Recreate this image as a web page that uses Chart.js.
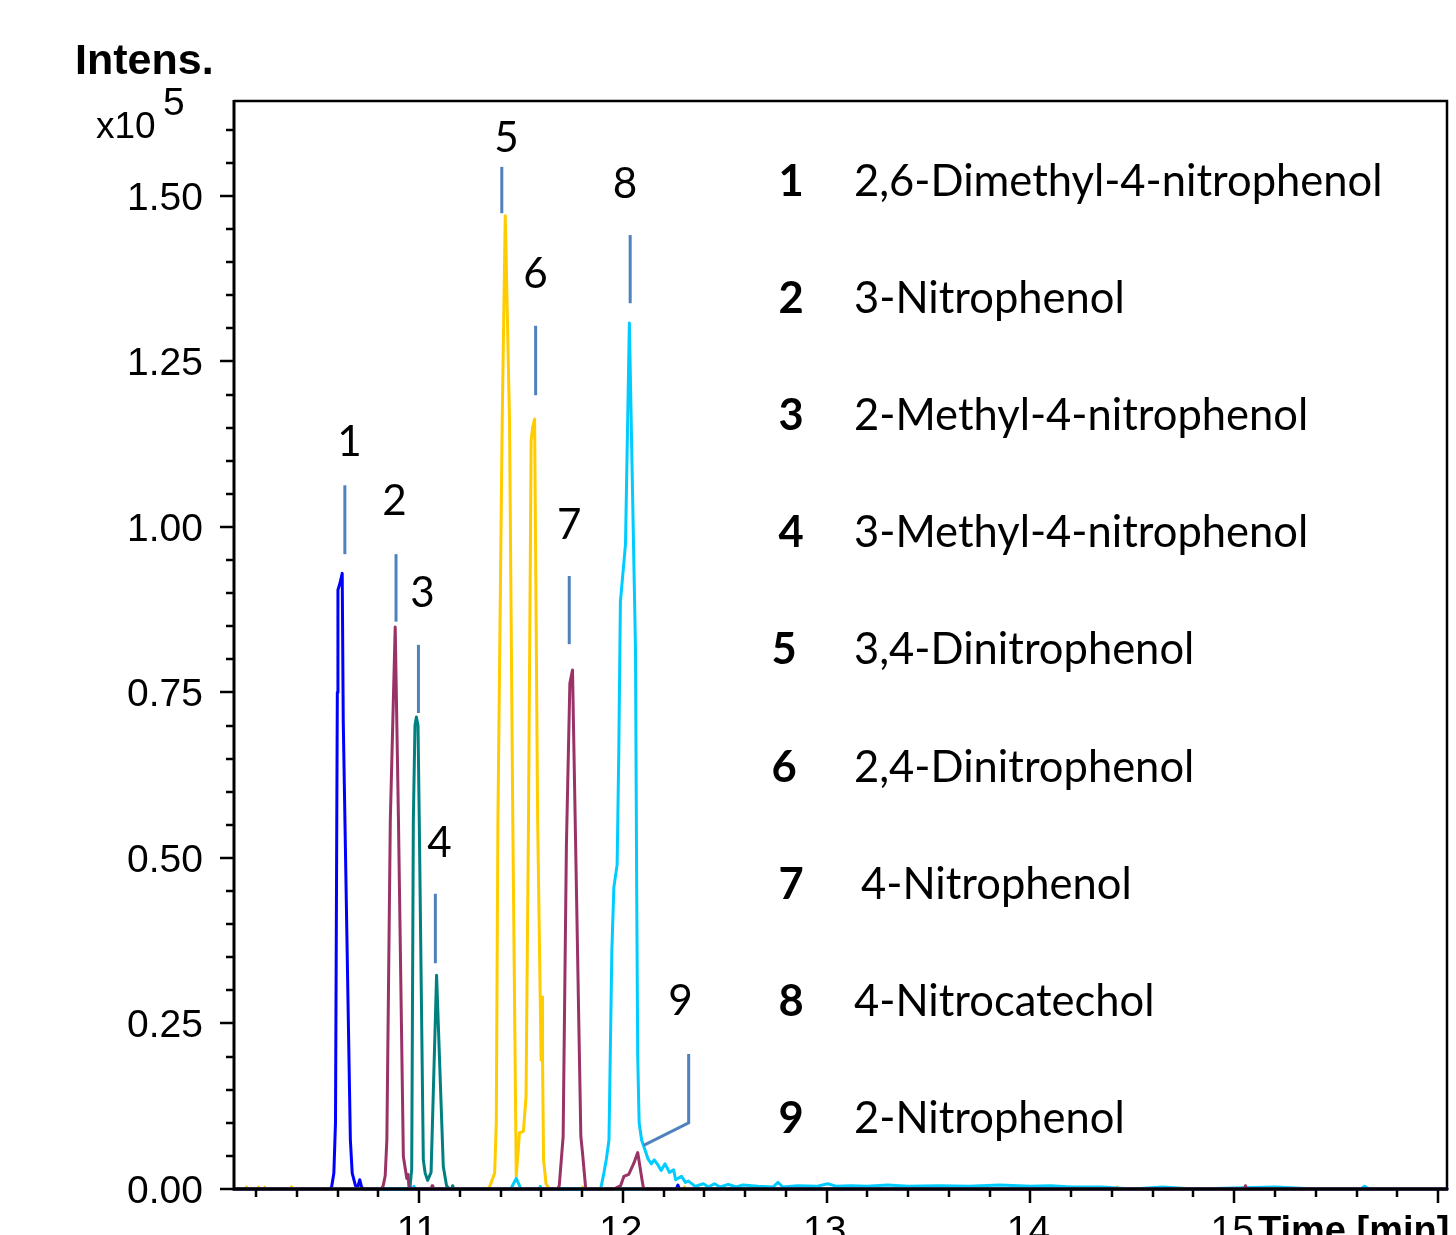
<!DOCTYPE html>
<html>
<head>
<meta charset="utf-8">
<script src="https://cdn.jsdelivr.net/npm/chart.js@4.4.1/dist/chart.umd.min.js"></script>
<style>
html, body { margin: 0; padding: 0; background: #fff; overflow: hidden; }
canvas { display: block; }
</style>
</head>
<body>
<canvas id="chart" width="1456" height="1235"></canvas>
<script>
// Extracted ion chromatograms, [time (min), intensity (x10^5)]
const eicBlue = [
  [10.092, 0], [10.560, 0], [10.571, 0.003], [10.582, 0.024], [10.590, 0.10], [10.599, 0.75],
  [10.602, 0.905], [10.612, 0.915], [10.623, 0.930], [10.628, 0.708], [10.663, 0.074],
  [10.672, 0.024], [10.688, 0.005], [10.700, 0.004], [10.709, 0.014], [10.718, 0.003],
  [10.728, 0], [12.262, 0], [12.270, 0.006], [12.278, 0], [16.044, 0]
];
const eicMaroon = [
  [10.092, 0], [10.815, 0], [10.824, 0.005], [10.834, 0.02], [10.842, 0.074], [10.859, 0.557],
  [10.883, 0.849], [10.899, 0.557], [10.923, 0.049], [10.940, 0.016], [10.946, 0.022], [10.951, 0],
  [11.060, 0], [11.064, 0.005], [11.068, 0],
  [11.680, 0], [11.688, 0.005], [11.707, 0.079], [11.723, 0.518], [11.740, 0.764], [11.753, 0.784],
  [11.794, 0.079], [11.802, 0.055], [11.818, 0],
  [11.956, 0], [11.989, 0.005], [12.005, 0.019], [12.029, 0.022], [12.054, 0.039], [12.073, 0.055],
  [12.094, 0.014], [12.102, 0],
  [15.050, 0], [15.055, 0.005], [15.060, 0], [16.044, 0]
];
const eicTeal = [
  [10.092, 0], [10.950, 0], [10.956, 0.004], [10.964, 0.03], [10.972, 0.557], [10.980, 0.70],
  [10.987, 0.713], [10.995, 0.70], [11.001, 0.557], [11.021, 0.044], [11.030, 0.024], [11.042, 0.013],
  [11.059, 0.025], [11.086, 0.323], [11.119, 0.034], [11.135, 0.005], [11.150, 0],
  [11.160, 0], [11.165, 0.005], [11.170, 0], [16.044, 0]
];
const eicGold = [
  [10.092, 0], [10.150, 0], [10.153, 0.003], [10.156, 0], [10.210, 0], [10.213, 0.003], [10.216, 0],
  [10.240, 0], [10.243, 0.003], [10.246, 0], [10.370, 0], [10.373, 0.003], [10.376, 0],
  [11.340, 0], [11.346, 0.003], [11.371, 0.024], [11.379, 0.10], [11.387, 0.557], [11.408, 1.16],
  [11.423, 1.470], [11.444, 1.16], [11.460, 0.557], [11.477, 0.019], [11.493, 0.085], [11.512, 0.087],
  [11.525, 0.14], [11.537, 0.557], [11.550, 1.13], [11.557, 1.15], [11.567, 1.163], [11.582, 0.557],
  [11.599, 0.195], [11.604, 0.29], [11.606, 0.195], [11.611, 0.044], [11.623, 0.008], [11.640, 0],
  [11.800, 0], [11.803, 0.003], [11.806, 0], [12.300, 0], [12.303, 0.003], [12.306, 0],
  [14.420, 0], [14.425, 0.003], [14.430, 0], [15.220, 0], [15.225, 0.003], [15.230, 0], [16.044, 0]
];
const eicCyan = [
  [10.092, 0], [10.950, 0], [10.955, 0.005], [10.960, 0], [10.970, 0], [10.975, 0.004], [10.980, 0],
  [11.450, 0], [11.477, 0.016], [11.500, 0], [11.590, 0], [11.595, 0.004], [11.600, 0],
  [11.891, 0], [11.907, 0.024], [11.919, 0.045], [11.932, 0.074], [11.946, 0.36], [11.956, 0.456],
  [11.972, 0.49], [11.980, 0.658], [11.988, 0.887], [12.013, 0.974], [12.032, 1.308], [12.062, 0.816],
  [12.068, 0.45], [12.073, 0.2], [12.080, 0.10], [12.092, 0.074], [12.109, 0.059], [12.124, 0.045],
  [12.140, 0.038], [12.154, 0.044], [12.173, 0.036], [12.188, 0.028], [12.207, 0.038], [12.229, 0.025],
  [12.249, 0.029], [12.259, 0.014], [12.288, 0.019], [12.307, 0.010], [12.322, 0.012], [12.355, 0.004],
  [12.395, 0.008], [12.420, 0.003], [12.449, 0.008], [12.478, 0.003], [12.517, 0.007], [12.556, 0.003],
  [12.590, 0.006], [12.663, 0.004], [12.737, 0.003], [12.761, 0.010], [12.785, 0.003], [12.859, 0.005],
  [12.950, 0.004], [13.005, 0.008], [13.050, 0.004], [13.120, 0.005], [13.200, 0.004], [13.300, 0.006],
  [13.400, 0.004], [13.550, 0.005], [13.700, 0.004], [13.850, 0.006], [14.000, 0.004], [14.100, 0.005],
  [14.200, 0.003], [14.350, 0.003], [14.500, 0], [14.650, 0.003], [14.800, 0], [15.200, 0.003],
  [15.400, 0], [15.620, 0], [15.640, 0.004], [15.660, 0], [16.044, 0]
];

// axis ticks
const yTickValues = [0, 0.25, 0.5, 0.75, 1.0, 1.25, 1.5];
const yTickLabels = ['0.00', '0.25', '0.50', '0.75', '1.00', '1.25', '1.50'];
const xTickValues = [11, 12, 13, 14, 15];
const xTickLabels = ['11', '12', '13', '14', '15'];

// peak list
const peakIds = ['1', '2', '3', '4', '5', '6', '7', '8', '9'];
const compounds = [
  '2,6-Dimethyl-4-nitrophenol', '3-Nitrophenol', '2-Methyl-4-nitrophenol', '3-Methyl-4-nitrophenol',
  '3,4-Dinitrophenol', '2,4-Dinitrophenol', '4-Nitrophenol', '4-Nitrocatechol', '2-Nitrophenol'
];

// peak markers in data units (marker time, marker span, label position)
const peakMarks = [
  { t: 10.636, lo: 0.959, hi: 1.063, lt: 10.659, ly: 1.107 },
  { t: 10.887, lo: 0.857, hi: 0.959, lt: 10.880, ly: 1.018 },
  { t: 10.997, lo: 0.719, hi: 0.822, lt: 11.017, ly: 0.879 },
  { t: 11.080, lo: 0.341, hi: 0.446, lt: 11.100, ly: 0.502 },
  { t: 11.406, lo: 1.474, hi: 1.544, lt: 11.429, ly: 1.566 },
  { t: 11.572, lo: 1.199, hi: 1.304, lt: 11.571, ly: 1.361 },
  { t: 11.737, lo: 0.823, hi: 0.926, lt: 11.737, ly: 0.982 },
  { t: 12.036, lo: 1.338, hi: 1.441, lt: 12.010, ly: 1.497 },
  { t: 12.323, lo: 0.100, hi: 0.204, lt: 12.283, ly: 0.263, tailT: 12.102, tailY: 0.066 }
];

const toPoints = arr => arr.map(p => ({ x: p[0], y: p[1] }));

const AXIS_FONT = '"Liberation Sans", Arial, sans-serif';
const TEXT_FONT = 'Lato, "Open Sans", sans-serif';

const decor = {
  id: 'decor',
  afterDatasetsDraw(chart) {
    const { ctx, chartArea: a, scales: { x, y } } = chart;
    ctx.save();
    ctx.strokeStyle = '#000';
    ctx.fillStyle = '#000';

    // frame
    ctx.lineWidth = 2.5;
    ctx.beginPath();
    ctx.moveTo(a.left, a.top);
    ctx.lineTo(a.right, a.top);
    ctx.lineTo(a.right, a.bottom);
    ctx.stroke();
    ctx.lineWidth = 3;
    ctx.beginPath();
    ctx.moveTo(a.left, a.top - 1);
    ctx.lineTo(a.left, a.bottom);
    ctx.lineTo(a.right + 1, a.bottom);
    ctx.stroke();

    // y ticks every 0.05, major every 0.25
    ctx.lineWidth = 2.5;
    for (let k = 0; k <= 32; k++) {
      const py = Math.round(y.getPixelForValue(k * 0.05));
      const len = k % 5 === 0 ? 14 : 8;
      ctx.beginPath();
      ctx.moveTo(a.left - len, py);
      ctx.lineTo(a.left, py);
      ctx.stroke();
    }
    // x ticks every 0.2, major every 1
    for (let k = 51; k <= 80; k++) {
      const px = Math.round(x.getPixelForValue(k / 5));
      const len = k % 5 === 0 ? 14 : 8;
      ctx.beginPath();
      ctx.moveTo(px, a.bottom);
      ctx.lineTo(px, a.bottom + len);
      ctx.stroke();
    }

    // tick labels
    ctx.font = '39px ' + AXIS_FONT;
    ctx.textAlign = 'right';
    ctx.textBaseline = 'alphabetic';
    yTickValues.forEach((v, i) => {
      ctx.fillText(yTickLabels[i], a.left - 31, y.getPixelForValue(v) + 14);
    });
    ctx.textAlign = 'center';
    xTickValues.forEach((v, i) => {
      ctx.fillText(xTickLabels[i], x.getPixelForValue(v) - 2, a.bottom + 54);
    });

    // axis titles
    ctx.textAlign = 'left';
    ctx.font = 'bold 38px ' + AXIS_FONT;
    ctx.fillText('Time [min]', 1258, a.bottom + 54);
    ctx.font = 'bold 43px ' + AXIS_FONT;
    ctx.fillText('Intens.', 75, 74);
    ctx.font = '37px ' + AXIS_FONT;
    ctx.fillText('x10', 96, 138);
    ctx.font = '39px ' + AXIS_FONT;
    ctx.fillText('5', 163, 115);

    // peak markers and numbers
    ctx.font = '100px ' + TEXT_FONT;
    const fit = 100 * 528 / ctx.measureText(compounds[0]).width;
    ctx.strokeStyle = '#4f81bd';
    ctx.lineWidth = 3;
    ctx.lineCap = 'butt';
    peakMarks.forEach((m, i) => {
      const px = x.getPixelForValue(m.t);
      ctx.beginPath();
      ctx.moveTo(px, y.getPixelForValue(m.hi));
      ctx.lineTo(px, y.getPixelForValue(m.lo));
      if (m.tailT !== undefined) {
        ctx.lineTo(x.getPixelForValue(m.tailT), y.getPixelForValue(m.tailY));
      }
      ctx.stroke();
      ctx.font = (fit * 0.97).toFixed(1) + 'px ' + TEXT_FONT;
      ctx.textAlign = 'center';
      ctx.fillText(peakIds[i], x.getPixelForValue(m.lt), y.getPixelForValue(m.ly));
    });

    // compound list
    const numX = [791, 791, 791, 791, 784, 784, 791, 791, 791];
    compounds.forEach((name, i) => {
      const base = 196 + i * 117.1;
      ctx.textAlign = 'center';
      ctx.font = 'bold ' + fit.toFixed(1) + 'px ' + TEXT_FONT;
      ctx.fillText(peakIds[i], numX[i], base);
      ctx.textAlign = 'left';
      ctx.font = fit.toFixed(1) + 'px ' + TEXT_FONT;
      ctx.fillText(name, i === 6 ? 861 : 854, base);
    });
    ctx.restore();
  }
};

const traces = [
  { data: eicMaroon, color: '#993366' },
  { data: eicTeal, color: '#008080' },
  { data: eicBlue, color: '#0000ff' },
  { data: eicCyan, color: '#00ccff' },
  { data: eicGold, color: '#ffcc00' }
];

new Chart(document.getElementById('chart'), {
  type: 'line',
  data: {
    datasets: traces.map(tr => ({
      data: toPoints(tr.data),
      borderColor: tr.color,
      borderWidth: 3,
      borderJoinStyle: 'round',
      borderCapStyle: 'round',
      pointRadius: 0,
      tension: 0,
      fill: false,
      clip: 6
    }))
  },
  options: {
    responsive: false,
    animation: false,
    devicePixelRatio: 1,
    layout: { padding: { left: 234, right: 9, top: 101, bottom: 46 } },
    scales: {
      x: { type: 'linear', min: 10.092, max: 16.044, display: false },
      y: { min: 0, max: 1.6435, display: false }
    },
    plugins: {
      legend: { display: false },
      tooltip: { enabled: false }
    }
  },
  plugins: [decor]
});
</script>
</body>
</html>
